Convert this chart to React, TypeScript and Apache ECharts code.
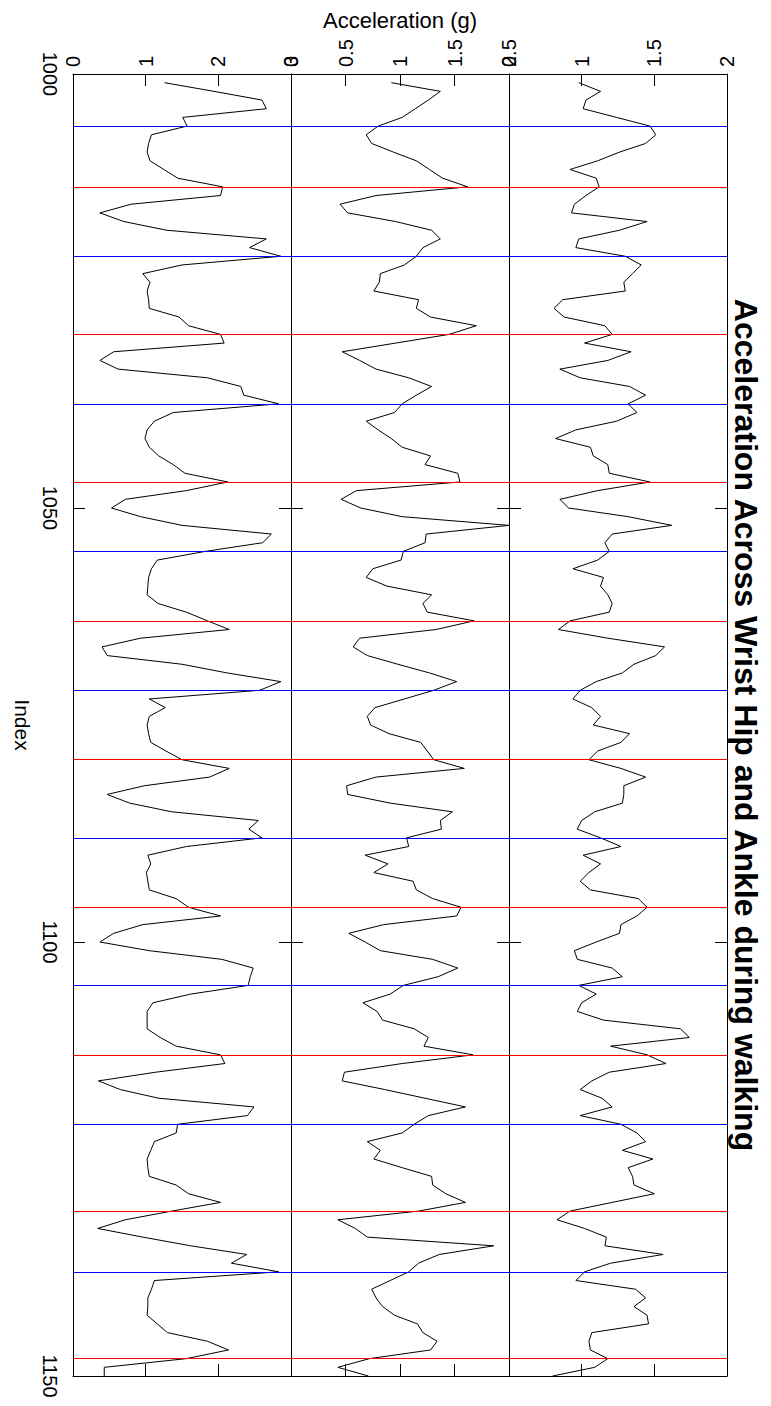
import React, { useEffect, useRef } from "react";
import * as echarts from "echarts";

// Sample index of the first point (the points run 1001 … 1150)
const START_INDEX = 1001;

// Left panel (range 0–3 g)
const ankleValues = [
  1.26, 1.94, 2.6, 2.66, 1.51, 1.57, 1.08, 1.04, 1.02, 1.06,
  1.25, 1.44, 2.06, 2.03, 0.8, 0.37, 0.7, 1.29, 2.66, 2.43,
  2.86, 1.5, 0.96, 1.06, 1.02, 1.04, 1.05, 1.46, 1.59, 2.03,
  2.08, 0.56, 0.37, 0.62, 1.85, 2.31, 2.35, 2.83, 1.38, 1.12,
  1.02, 0.99, 1.05, 1.18, 1.38, 1.54, 2.13, 1.56, 0.72, 0.53,
  0.93, 1.5, 2.73, 2.61, 1.82, 1.16, 1.08, 1.04, 1.03, 1.02,
  1.17, 1.56, 1.85, 2.15, 0.93, 0.4, 0.47, 1.5, 2.12, 2.86,
  2.57, 1.05, 1.27, 1.05, 1.02, 1.04, 1.07, 1.28, 1.5, 2.15,
  1.88, 0.98, 0.47, 0.78, 1.36, 2.55, 2.42, 2.6, 1.56, 1.03,
  1.07, 1.01, 1.03, 1.05, 1.42, 1.59, 2.03, 0.96, 0.56, 0.37,
  1.05, 2.05, 2.48, 2.44, 2.41, 1.62, 1.1, 1.02, 1.02, 1.02,
  1.2, 1.42, 2.03, 2.09, 1.14, 0.35, 0.65, 1.18, 2.49, 2.4,
  1.44, 1.42, 1.12, 1.07, 1.02, 1.03, 1.05, 1.42, 1.59, 2.03,
  1.36, 0.72, 0.34, 0.96, 1.62, 2.39, 2.18, 2.83, 1.12, 1.08,
  1.03, 1.03, 1.02, 1.16, 1.3, 1.85, 2.14, 1.56, 0.43, 0.43,
];

// Middle panel (range 0–2 g)
const hipValues = [
  0.92, 1.37, 1.26, 1.14, 1.02, 0.8, 0.69, 0.74, 0.94, 1.15,
  1.27, 1.39, 1.62, 0.78, 0.45, 0.52, 0.96, 1.29, 1.37, 1.21,
  1.15, 1.04, 0.82, 0.81, 0.76, 1.17, 1.15, 1.28, 1.7, 1.45,
  0.96, 0.47, 0.63, 0.78, 1.08, 1.29, 1.15, 1.02, 0.95, 0.69,
  0.8, 0.92, 1.02, 1.28, 1.23, 1.53, 1.55, 0.6, 0.46, 0.64,
  1.02, 2.0, 1.24, 1.23, 1.03, 1.01, 0.75, 0.69, 0.88, 1.29,
  1.21, 1.25, 1.68, 1.33, 0.63, 0.57, 0.7, 0.98, 1.27, 1.52,
  1.31, 1.04, 0.77, 0.7, 0.73, 0.9, 1.19, 1.25, 1.31, 1.59,
  0.78, 0.51, 0.52, 0.91, 1.48, 1.37, 1.38, 1.06, 1.08, 0.68,
  0.89, 0.76, 1.12, 1.15, 1.3, 1.56, 1.52, 0.85, 0.53, 0.68,
  0.82, 1.3, 1.53, 1.35, 1.03, 0.91, 0.66, 0.79, 0.84, 1.13,
  1.26, 1.22, 1.67, 1.02, 0.49, 0.47, 0.86, 1.23, 1.6, 1.26,
  1.13, 1.02, 0.7, 0.82, 0.76, 1.02, 1.29, 1.3, 1.42, 1.6,
  1.17, 0.43, 0.59, 0.7, 1.86, 1.36, 1.17, 1.08, 0.91, 0.74,
  0.78, 0.84, 0.95, 1.16, 1.21, 1.34, 1.28, 0.72, 0.43, 0.71,
];

// Right panel (range 0.5–2 g)
const wristValues = [
  0.98, 1.13, 1.03, 1.01, 1.24, 1.47, 1.51, 1.44, 1.26, 1.11,
  0.92, 1.1, 1.12, 1.03, 0.95, 0.93, 1.45, 1.26, 0.98, 0.96,
  1.3, 1.41, 1.35, 1.29, 1.3, 0.87, 0.81, 0.88, 1.16, 1.21,
  1.02, 1.34, 1.18, 0.85, 0.99, 1.33, 1.44, 1.32, 1.38, 1.24,
  0.96, 0.82, 1.06, 1.08, 1.18, 1.19, 1.47, 1.11, 0.85, 0.91,
  1.32, 1.62, 1.21, 1.16, 1.19, 1.11, 0.94, 1.15, 1.13, 1.18,
  1.21, 1.19, 0.92, 0.84, 1.18, 1.57, 1.51, 1.36, 1.28, 1.1,
  0.99, 0.94, 1.07, 1.13, 1.08, 1.33, 1.27, 1.11, 1.05, 1.27,
  1.44, 1.29, 1.29, 1.28, 1.09, 1.0, 0.97, 1.13, 1.27, 1.01,
  1.13, 1.05, 0.99, 1.06, 1.39, 1.45, 1.38, 1.27, 1.26, 1.1,
  0.95, 0.97, 1.21, 1.28, 0.98, 1.1, 1.0, 0.97, 1.15, 1.68,
  1.74, 1.2, 1.45, 1.58, 1.19, 1.07, 0.99, 1.14, 1.21, 0.99,
  1.27, 1.38, 1.44, 1.28, 1.49, 1.32, 1.35, 1.36, 1.5, 1.21,
  0.92, 0.83, 1.02, 1.17, 1.16, 1.56, 1.2, 1.02, 0.96, 1.37,
  1.44, 1.36, 1.45, 1.46, 1.07, 1.05, 1.06, 1.18, 1.09, 0.8,
];

// Event markers (sample indices)
const blueEvents = [1006, 1021, 1038, 1055, 1071, 1088, 1105, 1121, 1138];
const redEvents = [1013, 1030, 1047, 1063, 1079, 1096, 1113, 1131, 1148];

// Axis ranges
const indexMin = 1000;
const indexMax = 1150;
const indexInterval = 50;
const panelMins = [0, 0, 0.5];
const panelMaxs = [3, 2, 2];
const panelIntervals = [1, 0.5, 0.5];

const titleText = "Acceleration Across Wrist Hip and Ankle during walking";
const yLabelText = "Acceleration (g)";
const xLabelText = "Index";

const FONT = "'Liberation Sans', Arial, Helvetica, sans-serif";

export default function App() {
  const ref = useRef<HTMLDivElement>(null);

  useEffect(() => {
    if (!ref.current) return;
    const chart = echarts.init(ref.current, undefined, { renderer: "svg" });

    const H = 1406;
    const plotLeft = 73;
    const panelW = 218;
    const top = 74;
    const bottom = 30;
    const midY = top + (H - top - bottom) / 2;

    const panels = [ankleValues, hipValues, wristValues];

    const grids = panels.map((_, k) => ({
      left: plotLeft + k * panelW,
      width: panelW,
      top,
      bottom,
      containLabel: false,
    }));

    const xAxes: any[] = [];
    const yAxes: any[] = [];
    panels.forEach((_, k) => {
      const base = {
        type: "value",
        gridIndex: k,
        min: panelMins[k],
        max: panelMaxs[k],
        interval: panelIntervals[k],
        splitLine: { show: false },
        axisLine: { show: true, onZero: false, lineStyle: { color: "#000", width: 1 } },
        axisTick: { show: true, inside: true, length: 12, lineStyle: { color: "#000" } },
      };
      xAxes.push({
        ...base,
        position: "top",
        axisLabel: {
          show: true,
          rotate: -90,
          margin: 7,
          fontSize: 20,
          color: "#000",
          fontFamily: FONT,
          showMinLabel: true,
          showMaxLabel: true,
          hideOverlap: false,
          formatter: (v: number) => String(v),
        },
      });
      xAxes.push({
        ...base,
        position: "bottom",
        axisLabel: { show: false },
      });
      const ybase = {
        type: "value",
        gridIndex: k,
        min: indexMin,
        max: indexMax,
        interval: indexInterval,
        inverse: true,
        splitLine: { show: false },
        axisLine: { show: true, onZero: false, lineStyle: { color: "#000", width: 1 } },
        axisTick: { show: true, inside: true, length: 12, lineStyle: { color: "#000" } },
      };
      yAxes.push({
        ...ybase,
        position: "left",
        axisLabel:
          k === 0
            ? {
                show: true,
                rotate: -90,
                margin: 13,
                fontSize: 20,
                color: "#000",
                fontFamily: FONT,
                showMinLabel: true,
                showMaxLabel: true,
                formatter: (v: number) => String(v),
              }
            : { show: false },
      });
      yAxes.push({
        ...ybase,
        position: "right",
        axisLabel: { show: false },
      });
    });

    const markData = [
      ...blueEvents.map((v) => ({ yAxis: v, lineStyle: { color: "#0000ff", width: 1, type: "solid" } })),
      ...redEvents.map((v) => ({ yAxis: v, lineStyle: { color: "#ff0000", width: 1, type: "solid" } })),
    ];

    const series = panels.map((vals, k) => ({
      type: "line",
      xAxisIndex: k * 2,
      yAxisIndex: k * 2,
      data: vals.map((v, i) => [v, START_INDEX + i]),
      showSymbol: false,
      symbol: "none",
      lineStyle: { color: "#000", width: 1 },
      itemStyle: { color: "#000" },
      z: 3,
      markLine: {
        silent: true,
        symbol: ["none", "none"],
        label: { show: false },
        lineStyle: { type: "solid", width: 1 },
        emphasis: { disabled: true },
        data: markData,
      },
    }));

    chart.setOption({
      animation: false,
      backgroundColor: "#fff",
      grid: grids,
      xAxis: xAxes,
      yAxis: yAxes,
      series,
      graphic: [
        {
          type: "text",
          x: 746,
          y: midY,
          rotation: -Math.PI / 2,
          style: {
            text: titleText,
            fontSize: 32,
            fontWeight: "bold",
            fontFamily: FONT,
            fill: "#000",
            align: "center",
            verticalAlign: "middle",
          },
        },
        {
          type: "text",
          x: 22,
          y: midY,
          rotation: -Math.PI / 2,
          style: {
            text: xLabelText,
            fontSize: 21,
            fontFamily: FONT,
            fill: "#000",
            align: "center",
            verticalAlign: "middle",
          },
        },
        {
          type: "text",
          x: plotLeft + (panelW * 3) / 2,
          y: 20,
          style: {
            text: yLabelText,
            fontSize: 22,
            fontFamily: FONT,
            fill: "#000",
            align: "center",
            verticalAlign: "middle",
          },
        },
      ],
    });

    return () => chart.dispose();
  }, []);

  return (
    <div
      ref={ref}
      style={{ position: "absolute", left: 0, top: 0, width: 771, height: 1406 }}
    />
  );
}
